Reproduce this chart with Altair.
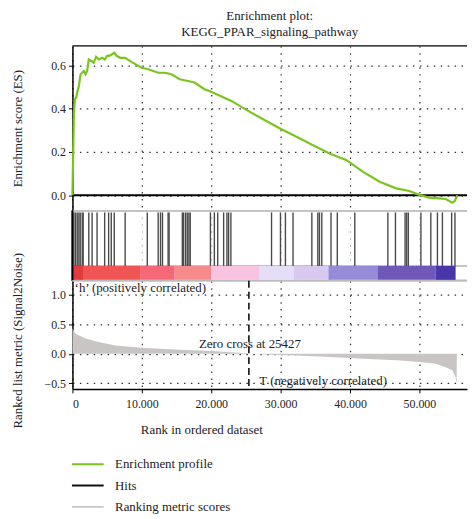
import altair as alt
import pandas as pd

FONT = "'Liberation Serif', 'Times New Roman', Times, serif"
GREEN = "#7bc41f"
TXT = "#222222"

# ---- data ----
title_lines = ["Enrichment plot:", "KEGG_PPAR_signaling_pathway"]

es_rank = [0, 214, 357, 548, 690, 929, 1167, 1405, 1643, 1881, 2119, 2357, 2738, 3071, 3405,
           3786, 4262, 4643, 4976, 5452, 6024, 6405, 6881, 7595, 8548, 9976, 10929, 12357,
           13310, 14262, 15452, 16643, 17595, 19024, 19976, 22833, 25690, 29976, 32357, 34738,
           37119, 39500, 41881, 44262, 46643, 48548, 49976, 51405, 52833, 53786, 54738, 55100, 55452]
es_value = [0.0, 0.383, 0.444, 0.452, 0.475, 0.505, 0.559, 0.566, 0.574, 0.559, 0.574, 0.627,
            0.620, 0.612, 0.640, 0.627, 0.635, 0.627, 0.643, 0.646, 0.658, 0.643, 0.635, 0.635,
            0.615, 0.589, 0.582, 0.566, 0.566, 0.559, 0.536, 0.528, 0.521, 0.490, 0.478, 0.437,
            0.383, 0.307, 0.269, 0.230, 0.192, 0.162, 0.108, 0.063, 0.032, 0.020, 0.002, -0.011,
            -0.014, -0.017, -0.034, -0.026, 0.0]

hit_ranks = [214, 452, 690, 929, 1119, 1405, 1548, 2357, 2833, 3548, 4643, 5214, 5595, 6024,
             7595, 10786, 12357, 12690, 12976, 13786, 13929, 15833, 16024, 16310, 16548, 16786,
             16976, 19881, 20452, 20929, 21786, 22262, 22500, 22833, 28690, 29976, 30690, 31786,
             34500, 35357, 35595, 35929, 37262, 38167, 40690, 45452, 46548, 47929, 48167, 48405,
             50214, 51643, 52595, 53310, 54643, 55119]

seg_start = [0, 1643, 9743, 14743, 19971, 26886, 31886, 36886, 44029, 52357]
seg_end = [1643, 9743, 14743, 19971, 26886, 31886, 36886, 44029, 52357, 55214]
seg_color = ["#e23b3b", "#f05555", "#f46878", "#f78a8a", "#f9c3e2",
             "#e4def6", "#d9c9f1", "#968bd6", "#7058b9", "#4a36a8"]

metric_rank = [0, 452, 1881, 3786, 6167, 9976, 14738, 19976, 25214, 25427, 26643, 26700,
               32357, 37119, 41881, 46643, 49976, 52357, 53786, 54738, 55214, 55357, 55400]
metric_value = [0.43, 0.34, 0.26, 0.20, 0.14, 0.10, 0.07, 0.045, 0.01, 0.0, 0.0, -0.01,
                -0.03, -0.057, -0.085, -0.11, -0.14, -0.17, -0.23, -0.28, -0.40, -0.51, 0.0]

zero_cross = 25427
ann_text = ["\u2018h\u2019 (positively correlated)", "Zero cross at 25427", "T (negatively correlated)"]
ann_rank = [314, 25571, 26929]
ann_value = [1.12, 0.171, -0.46]
ann_align = ["left", "center", "left"]

legend_labels = ["Enrichment profile", "Hits", "Ranking metric scores"]
legend_colors = [GREEN, "#111111", "#c8c8c8"]

x_ticks = [0, 10000, 20000, 30000, 40000, 50000]
es_ticks = [0.0, 0.1, 0.2, 0.3, 0.4, 0.5, 0.6]
metric_ticks = [-0.5, 0.0, 0.5, 1.0]

# ---- layout ----
W = 398
H1, H2, H3 = 166, 71, 109
x_scale = alt.Scale(domain=[0, W / 70 * 10000], nice=False, zero=False)
grid = dict(gridColor="#333333", gridDash=[1.5, 5.5], gridWidth=1.2)

x_hidden = alt.Axis(values=x_ticks, grid=True, labels=False, ticks=False, domain=False,
                    title=None, **grid)
x_hidden_faint = alt.Axis(values=x_ticks, grid=True, labels=False, ticks=False, domain=False,
                          title=None, gridColor="#aaaaaa", gridDash=[1.5, 5.5], gridWidth=1)

# Panel 1: enrichment score
es_df = pd.DataFrame({"rank": es_rank, "es": es_value})
es_y = alt.Scale(domain=[-0.07, 0.69], nice=False, zero=False)
es_line = alt.Chart(es_df).mark_line(color=GREEN, strokeWidth=2.2).encode(
    x=alt.X("rank:Q", scale=x_scale, axis=x_hidden),
    y=alt.Y("es:Q", scale=es_y,
            axis=alt.Axis(values=es_ticks, format=".1f", title="Enrichment score (ES)",
                          titleX=-48, tickSize=4, labelPadding=3, **grid)),
)
zero_rule = alt.Chart(pd.DataFrame({"z": [0.0]})).mark_rule(color="black", strokeWidth=2).encode(
    y=alt.Y("z:Q", scale=es_y))
top_rule = alt.Chart(pd.DataFrame({"z": [0]})).mark_rule(color="black", strokeWidth=1.5).encode(
    x=alt.value(0), x2=alt.value(W), y=alt.value(0))
p1 = alt.layer(zero_rule, es_line, top_rule).properties(
    width=W, height=H1,
    title=alt.TitleParams(text=title_lines, font=FONT, fontSize=13, fontWeight="normal",
                          anchor="middle", frame="group", offset=6, color=TXT, lineHeight=16),
)

# Panel 2: hits + colour bar
hits_df = pd.DataFrame({"rank": hit_ranks})
bar_df = pd.DataFrame({"start": seg_start, "end": seg_end, "color": seg_color})
hits = alt.Chart(hits_df).mark_rule(color="#4a4a4a", strokeWidth=1.4).encode(
    x=alt.X("rank:Q", scale=x_scale, axis=x_hidden_faint), y=alt.value(2), y2=alt.value(56))
cbar = alt.Chart(bar_df).mark_rect().encode(
    x=alt.X("start:Q", scale=x_scale), x2="end:Q", y=alt.value(56), y2=alt.value(70),
    color=alt.Color("color:N", scale=None))
gray_df = pd.DataFrame({"k": [0, 1, 2]})
gline0 = alt.Chart(gray_df).mark_rule(color="#bbbbbb", strokeWidth=1).encode(
    x=alt.value(0), x2=alt.value(W), y=alt.value(0.5))
gline1 = alt.Chart(gray_df).mark_rule(color="#bbbbbb", strokeWidth=1).encode(
    x=alt.value(0), x2=alt.value(W), y=alt.value(56))
gline2 = alt.Chart(gray_df).mark_rule(color="#bbbbbb", strokeWidth=1).encode(
    x=alt.value(0), x2=alt.value(W), y=alt.value(70.5))
left2 = alt.Chart(gray_df).mark_rule(color="black", strokeWidth=1.5).encode(
    x=alt.value(0), y=alt.value(0), y2=alt.value(H2))
p2 = alt.layer(gline0, gline1, gline2, hits, cbar, left2).properties(width=W, height=H2)

# Panel 3: ranked list metric
m_y = alt.Scale(domain=[-0.596, 1.235], nice=False, zero=False)
metric_df = pd.DataFrame({"rank": metric_rank, "v": metric_value})
area = alt.Chart(metric_df).mark_area(color="#c9c5c5").encode(
    x=alt.X("rank:Q", scale=x_scale,
            axis=alt.Axis(values=x_ticks, grid=True, tickSize=4, labelPadding=6,
                          labelExpr="replace(format(datum.value, ','), ',', '.')",
                          title="Rank in ordered dataset", titleX=130, titleY=35, **grid)),
    y=alt.Y("v:Q", scale=m_y,
            axis=alt.Axis(values=metric_ticks, format=".1f",
                          title="Ranked list metric (Signal2Noise)",
                          titleX=-48, titleY=60, tickSize=4, labelPadding=3, **grid)),
    y2=alt.datum(0),
)
top3 = alt.Chart(gray_df).mark_rule(color="#bbbbbb", strokeWidth=1).encode(
    x=alt.value(0), x2=alt.value(W), y=alt.value(0))
zc = alt.Chart(pd.DataFrame({"r": [zero_cross]})).mark_rule(
    color="black", strokeWidth=1.5, strokeDash=[7, 4]).encode(x=alt.X("r:Q", scale=x_scale))
ann_df = pd.DataFrame({"t": ann_text, "r": ann_rank, "v": ann_value, "a": ann_align})
ann_left = alt.Chart(ann_df[ann_df.a == "left"]).mark_text(
    align="left", baseline="middle", font=FONT, fontSize=13, color=TXT).encode(
    x=alt.X("r:Q", scale=x_scale), y=alt.Y("v:Q", scale=m_y, axis=None), text="t:N")
ann_center = alt.Chart(ann_df[ann_df.a == "center"]).mark_text(
    align="center", baseline="middle", font=FONT, fontSize=13, color=TXT).encode(
    x=alt.X("r:Q", scale=x_scale), y=alt.Y("v:Q", scale=m_y, axis=None), text="t:N")

leg_df = pd.DataFrame({"label": legend_labels, "color": legend_colors})
leg_y = alt.Y("label:N", sort=legend_labels,
              scale=alt.Scale(type="point", domain=legend_labels, range=[185, 228], padding=0),
              axis=None)
leg_lines = alt.Chart(leg_df).mark_rule(strokeWidth=2).encode(
    x=alt.value(-0.5), x2=alt.value(31.5), y=leg_y, color=alt.Color("color:N", scale=None))
leg_text = alt.Chart(leg_df).mark_text(
    align="left", baseline="middle", font=FONT, fontSize=13, color=TXT).encode(
    x=alt.value(43), y=leg_y, text="label:N")

p3 = alt.layer(area, top3, zc, ann_left, ann_center, leg_lines, leg_text).resolve_scale(
    y="independent").properties(width=W, height=H3)

chart = alt.vconcat(p1, p2, p3, spacing=0, bounds="flush").configure_view(stroke=None).configure_axis(
    labelFont=FONT, labelFontSize=12, labelColor=TXT, titleFont=FONT, titleFontSize=13,
    titleFontWeight="normal", titleColor=TXT, domainColor="black", domainWidth=1.5,
    tickColor="black",
).properties(padding={"left": 3, "top": 0, "right": 0, "bottom": 0})

chart.save("out.html", embed_options={"renderer": "svg", "actions": False})
